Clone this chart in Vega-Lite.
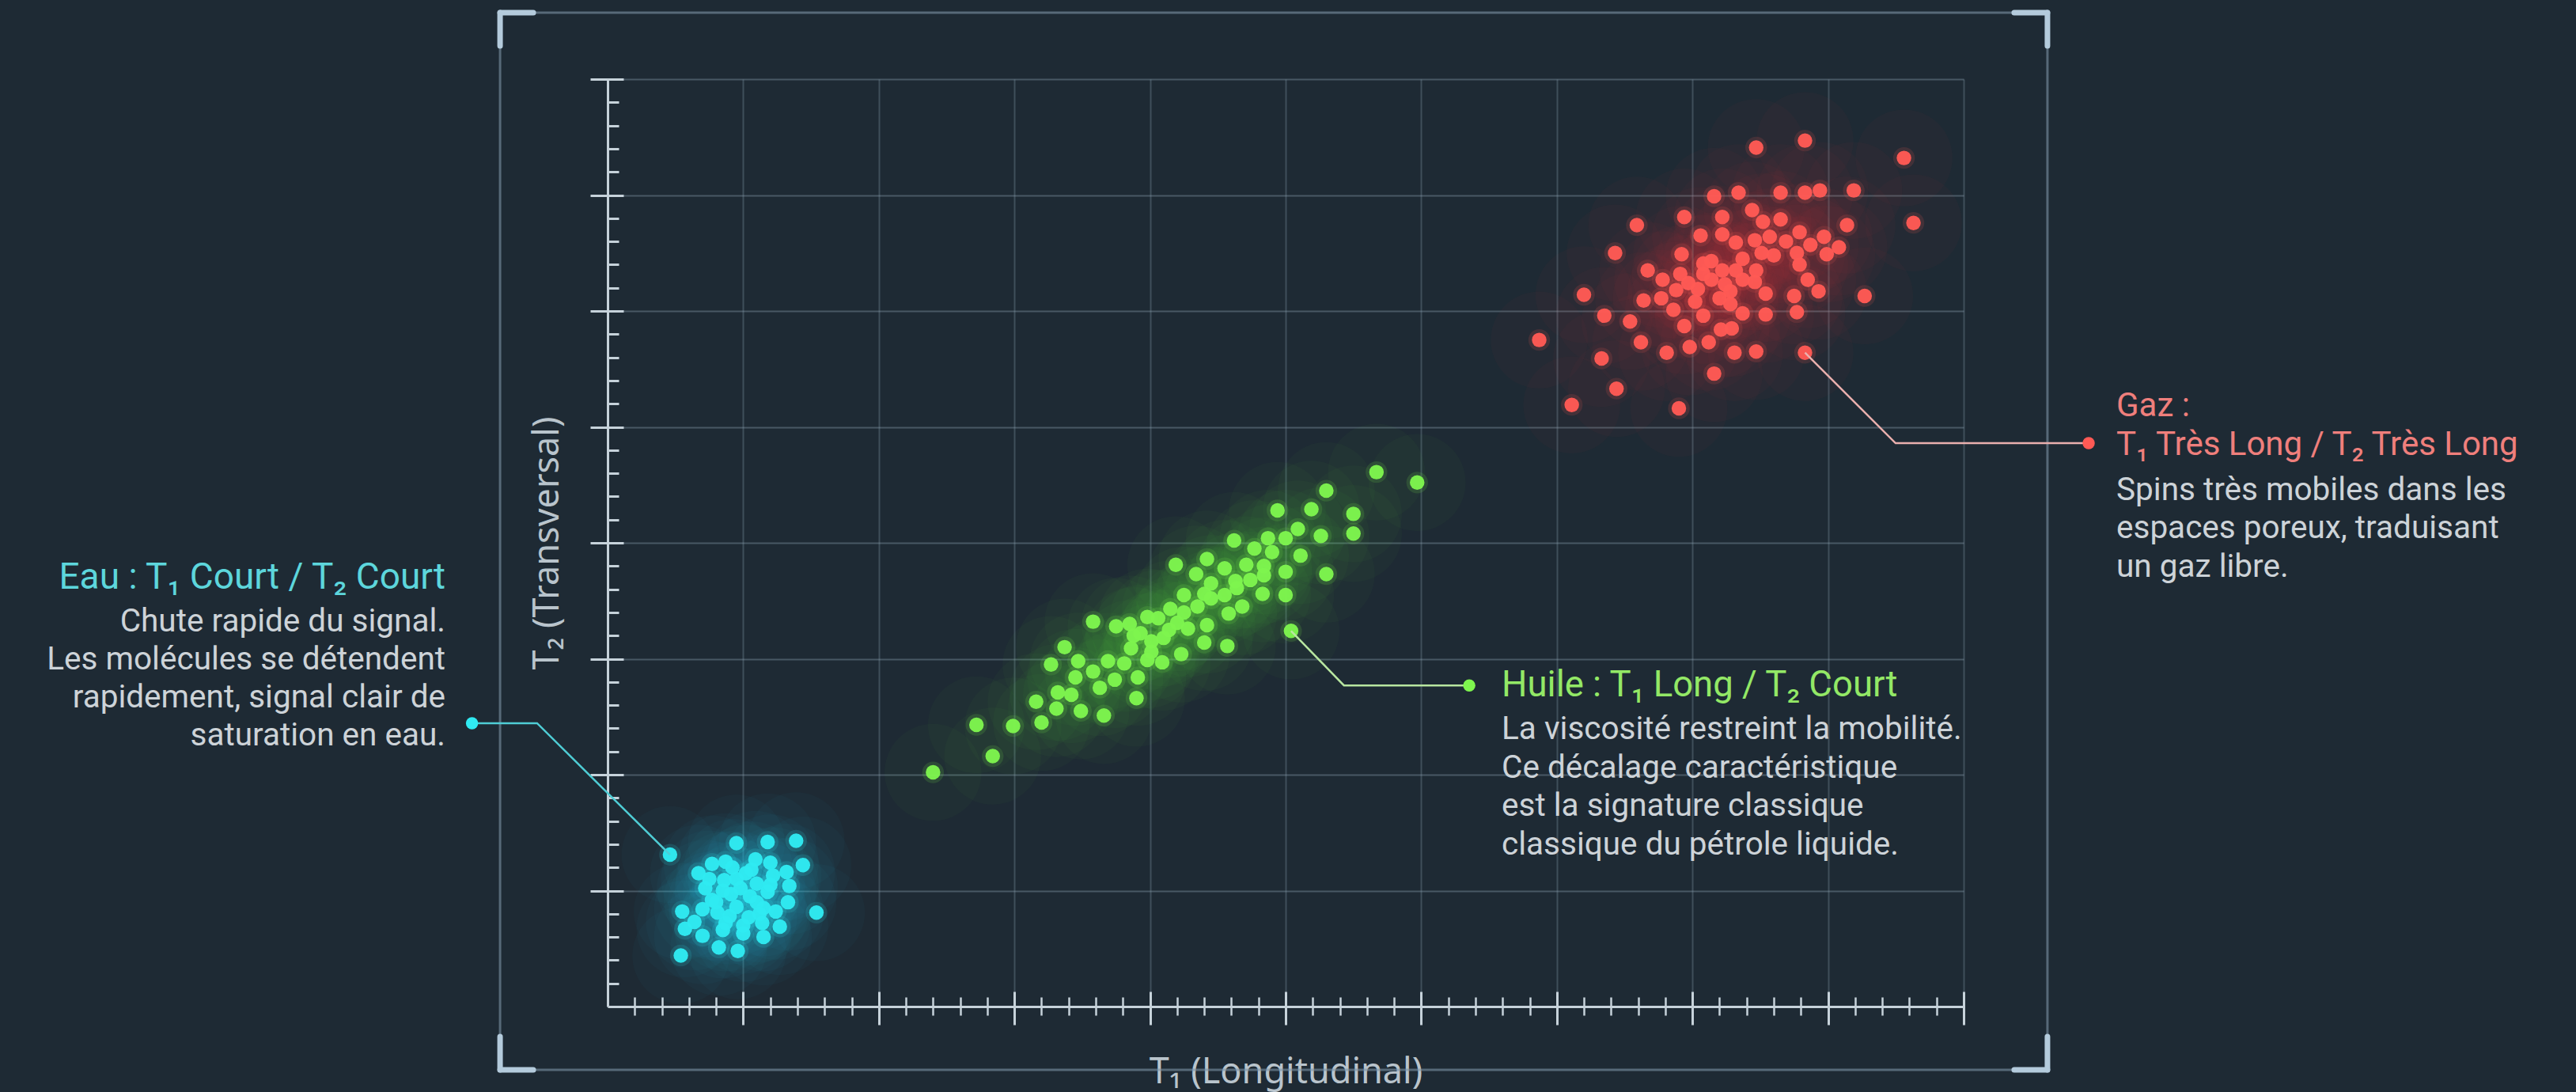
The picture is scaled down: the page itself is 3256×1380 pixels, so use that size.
{
  "$schema": "https://vega.github.io/schema/vega-lite/v6.json",
  "width": 1714,
  "height": 1172,
  "autosize": {"type": "none"},
  "padding": {"left": 768, "top": 100, "right": 774, "bottom": 108},
  "background": "#1e2a34",
  "config": {"view": {"stroke": null}, "font": "Noto Sans"},
  "datasets": {
    "pts": [
      {"g":"Gaz","x":8.47,"y":7.41},{"g":"Gaz","x":8.83,"y":7.47},{"g":"Gaz","x":9.56,"y":7.32},{"g":"Gaz","x":8.16,"y":6.99},{"g":"Gaz","x":8.34,"y":7.02},{"g":"Gaz","x":8.65,"y":7.02},{"g":"Gaz","x":8.83,"y":7.02},{"g":"Gaz","x":8.94,"y":7.04},{"g":"Gaz","x":9.19,"y":7.04},{"g":"Gaz","x":9.63,"y":6.76},
      {"g":"Gaz","x":7.59,"y":6.74},{"g":"Gaz","x":7.94,"y":6.81},{"g":"Gaz","x":8.22,"y":6.81},{"g":"Gaz","x":8.44,"y":6.87},{"g":"Gaz","x":8.52,"y":6.77},{"g":"Gaz","x":8.65,"y":6.79},{"g":"Gaz","x":9.14,"y":6.74},{"g":"Gaz","x":7.43,"y":6.50},{"g":"Gaz","x":8.06,"y":6.65},{"g":"Gaz","x":8.22,"y":6.66},
      {"g":"Gaz","x":8.32,"y":6.59},{"g":"Gaz","x":8.46,"y":6.61},{"g":"Gaz","x":8.57,"y":6.64},{"g":"Gaz","x":8.69,"y":6.60},{"g":"Gaz","x":8.79,"y":6.68},{"g":"Gaz","x":8.87,"y":6.57},{"g":"Gaz","x":8.97,"y":6.64},{"g":"Gaz","x":9.08,"y":6.55},{"g":"Gaz","x":8.99,"y":6.49},{"g":"Gaz","x":8.77,"y":6.50},
      {"g":"Gaz","x":7.92,"y":6.49},{"g":"Gaz","x":8.14,"y":6.43},{"g":"Gaz","x":8.22,"y":6.35},{"g":"Gaz","x":8.37,"y":6.45},{"g":"Gaz","x":8.51,"y":6.50},{"g":"Gaz","x":8.60,"y":6.48},{"g":"Gaz","x":8.79,"y":6.40},{"g":"Gaz","x":7.67,"y":6.35},{"g":"Gaz","x":7.78,"y":6.27},{"g":"Gaz","x":7.91,"y":6.32},
      {"g":"Gaz","x":8.08,"y":6.41},{"g":"Gaz","x":8.32,"y":6.35},{"g":"Gaz","x":8.47,"y":6.35},{"g":"Gaz","x":8.14,"y":6.27},{"g":"Gaz","x":8.46,"y":6.25},{"g":"Gaz","x":8.85,"y":6.27},{"g":"Gaz","x":8.93,"y":6.17},{"g":"Gaz","x":7.20,"y":6.14},{"g":"Gaz","x":7.64,"y":6.09},{"g":"Gaz","x":7.77,"y":6.11},
      {"g":"Gaz","x":7.88,"y":6.18},{"g":"Gaz","x":8.04,"y":6.19},{"g":"Gaz","x":8.28,"y":6.17},{"g":"Gaz","x":8.54,"y":6.15},{"g":"Gaz","x":8.75,"y":6.13},{"g":"Gaz","x":9.27,"y":6.13},{"g":"Gaz","x":7.35,"y":5.96},{"g":"Gaz","x":7.54,"y":5.91},{"g":"Gaz","x":7.86,"y":6.01},{"g":"Gaz","x":8.08,"y":5.96},
      {"g":"Gaz","x":8.28,"y":6.06},{"g":"Gaz","x":8.37,"y":5.98},{"g":"Gaz","x":8.54,"y":5.97},{"g":"Gaz","x":8.77,"y":5.99},{"g":"Gaz","x":6.87,"y":5.75},{"g":"Gaz","x":7.62,"y":5.73},{"g":"Gaz","x":7.94,"y":5.87},{"g":"Gaz","x":8.21,"y":5.84},{"g":"Gaz","x":8.29,"y":5.85},{"g":"Gaz","x":8.12,"y":5.73},
      {"g":"Gaz","x":7.33,"y":5.59},{"g":"Gaz","x":7.81,"y":5.64},{"g":"Gaz","x":7.98,"y":5.69},{"g":"Gaz","x":8.31,"y":5.64},{"g":"Gaz","x":8.47,"y":5.65},{"g":"Gaz","x":8.83,"y":5.64},{"g":"Gaz","x":8.16,"y":5.46},{"g":"Gaz","x":7.44,"y":5.33},{"g":"Gaz","x":7.11,"y":5.19},{"g":"Gaz","x":7.90,"y":5.16},
      {"g":"Gaz","x":8.02,"y":6.08},{"g":"Gaz","x":8.20,"y":6.11},{"g":"Gaz","x":7.97,"y":6.24},{"g":"Gaz","x":8.08,"y":6.32},{"g":"Gaz","x":8.37,"y":6.27},{"g":"Gaz","x":8.24,"y":6.23},
      {"g":"Huile","x":5.67,"y":4.61},{"g":"Huile","x":5.97,"y":4.52},{"g":"Huile","x":5.30,"y":4.45},{"g":"Huile","x":4.94,"y":4.28},{"g":"Huile","x":5.19,"y":4.29},{"g":"Huile","x":5.50,"y":4.25},{"g":"Huile","x":5.50,"y":4.08},{"g":"Huile","x":5.26,"y":4.06},{"g":"Huile","x":5.09,"y":4.12},{"g":"Huile","x":4.62,"y":4.02},
      {"g":"Huile","x":4.87,"y":4.04},{"g":"Huile","x":5.00,"y":4.04},{"g":"Huile","x":4.77,"y":3.95},{"g":"Huile","x":4.90,"y":3.92},{"g":"Huile","x":5.11,"y":3.89},{"g":"Huile","x":4.19,"y":3.81},{"g":"Huile","x":4.42,"y":3.86},{"g":"Huile","x":4.55,"y":3.78},{"g":"Huile","x":4.71,"y":3.81},{"g":"Huile","x":4.84,"y":3.80},
      {"g":"Huile","x":5.00,"y":3.75},{"g":"Huile","x":5.30,"y":3.73},{"g":"Huile","x":4.34,"y":3.73},{"g":"Huile","x":4.45,"y":3.65},{"g":"Huile","x":4.63,"y":3.67},{"g":"Huile","x":4.74,"y":3.68},{"g":"Huile","x":4.84,"y":3.72},{"g":"Huile","x":5.00,"y":3.55},{"g":"Huile","x":4.83,"y":3.56},{"g":"Huile","x":4.25,"y":3.55},
      {"g":"Huile","x":4.40,"y":3.56},{"g":"Huile","x":4.55,"y":3.55},{"g":"Huile","x":4.68,"y":3.45},{"g":"Huile","x":4.58,"y":3.39},{"g":"Huile","x":4.15,"y":3.43},{"g":"Huile","x":3.98,"y":3.36},{"g":"Huile","x":3.58,"y":3.32},{"g":"Huile","x":3.75,"y":3.28},{"g":"Huile","x":3.85,"y":3.30},{"g":"Huile","x":4.06,"y":3.35},
      {"g":"Huile","x":4.28,"y":3.26},{"g":"Huile","x":4.42,"y":3.29},{"g":"Huile","x":3.93,"y":3.22},{"g":"Huile","x":4.14,"y":3.25},{"g":"Huile","x":5.04,"y":3.24},{"g":"Huile","x":4.40,"y":3.14},{"g":"Huile","x":4.57,"y":3.11},{"g":"Huile","x":3.86,"y":3.09},{"g":"Huile","x":4.01,"y":3.06},{"g":"Huile","x":4.23,"y":3.04},
      {"g":"Huile","x":3.37,"y":3.10},{"g":"Huile","x":3.47,"y":2.98},{"g":"Huile","x":3.69,"y":2.98},{"g":"Huile","x":3.81,"y":2.96},{"g":"Huile","x":3.98,"y":2.99},{"g":"Huile","x":4.09,"y":2.97},{"g":"Huile","x":3.27,"y":2.95},{"g":"Huile","x":3.58,"y":2.89},{"g":"Huile","x":3.45,"y":2.84},{"g":"Huile","x":3.74,"y":2.82},
      {"g":"Huile","x":3.91,"y":2.84},{"g":"Huile","x":3.63,"y":2.75},{"g":"Huile","x":3.32,"y":2.71},{"g":"Huile","x":3.42,"y":2.69},{"g":"Huile","x":3.90,"y":2.66},{"g":"Huile","x":3.16,"y":2.63},{"g":"Huile","x":3.31,"y":2.57},{"g":"Huile","x":3.49,"y":2.55},{"g":"Huile","x":3.66,"y":2.51},{"g":"Huile","x":3.20,"y":2.45},
      {"g":"Huile","x":2.72,"y":2.43},{"g":"Huile","x":2.99,"y":2.42},{"g":"Huile","x":2.84,"y":2.16},{"g":"Huile","x":2.40,"y":2.02},{"g":"Huile","x":4.10,"y":3.18},{"g":"Huile","x":4.25,"y":3.40},{"g":"Huile","x":4.01,"y":3.15},{"g":"Huile","x":4.35,"y":3.45},{"g":"Huile","x":4.45,"y":3.52},{"g":"Huile","x":3.88,"y":3.20},
      {"g":"Huile","x":4.20,"y":3.31},{"g":"Huile","x":4.64,"y":3.61},
      {"g":"Eau","x":0.46,"y":1.31},{"g":"Eau","x":0.95,"y":1.41},{"g":"Eau","x":1.18,"y":1.42},{"g":"Eau","x":1.39,"y":1.43},{"g":"Eau","x":0.77,"y":1.23},{"g":"Eau","x":0.87,"y":1.25},{"g":"Eau","x":1.09,"y":1.27},{"g":"Eau","x":1.20,"y":1.24},{"g":"Eau","x":1.44,"y":1.22},{"g":"Eau","x":0.67,"y":1.15},
      {"g":"Eau","x":1.32,"y":1.16},{"g":"Eau","x":0.86,"y":1.09},{"g":"Eau","x":0.72,"y":1.02},{"g":"Eau","x":1.34,"y":1.04},{"g":"Eau","x":0.55,"y":0.82},{"g":"Eau","x":0.70,"y":0.84},{"g":"Eau","x":1.33,"y":0.90},{"g":"Eau","x":1.24,"y":0.82},{"g":"Eau","x":1.54,"y":0.81},{"g":"Eau","x":0.57,"y":0.67},
      {"g":"Eau","x":0.64,"y":0.73},{"g":"Eau","x":0.70,"y":0.61},{"g":"Eau","x":1.27,"y":0.69},{"g":"Eau","x":1.15,"y":0.60},{"g":"Eau","x":0.82,"y":0.51},{"g":"Eau","x":0.96,"y":0.48},{"g":"Eau","x":0.54,"y":0.44},{"g":"Eau","x":1.00,"y":0.63},{"g":"Eau","x":0.85,"y":0.66},{"g":"Eau","x":0.98,"y":1.02},
      {"g":"Eau","x":1.10,"y":1.06},{"g":"Eau","x":0.95,"y":0.86},{"g":"Eau","x":1.10,"y":0.90},{"g":"Eau","x":1.18,"y":0.99},{"g":"Eau","x":0.81,"y":0.81},{"g":"Eau","x":1.04,"y":0.77},{"g":"Eau","x":0.91,"y":0.97},{"g":"Eau","x":1.22,"y":1.13},{"g":"Eau","x":1.02,"y":1.15},{"g":"Eau","x":0.77,"y":0.92},
      {"g":"Eau","x":0.87,"y":0.72},{"g":"Eau","x":1.14,"y":0.72},{"g":"Eau","x":0.85,"y":1.00},{"g":"Eau","x":0.95,"y":1.10},{"g":"Eau","x":1.05,"y":0.95},{"g":"Eau","x":1.15,"y":0.85},{"g":"Eau","x":0.90,"y":0.78},{"g":"Eau","x":1.00,"y":0.70},{"g":"Eau","x":0.80,"y":0.90},{"g":"Eau","x":1.20,"y":1.05},
      {"g":"Eau","x":1.06,"y":1.18},{"g":"Eau","x":0.92,"y":1.20},{"g":"Eau","x":1.12,"y":0.80},{"g":"Eau","x":0.75,"y":1.10}
    ],
    "leaders": [
      {"g":"Eau","o":1,"x":-1.0,"y":2.444},{"g":"Eau","o":2,"x":-0.52,"y":2.444},{"g":"Eau","o":3,"x":0.46,"y":1.31},
      {"g":"Huile","o":1,"x":6.354,"y":2.77},{"g":"Huile","o":2,"x":5.43,"y":2.77},{"g":"Huile","o":3,"x":5.04,"y":3.24},
      {"g":"Gaz","o":1,"x":10.922,"y":4.86},{"g":"Gaz","o":2,"x":9.498,"y":4.86},{"g":"Gaz","o":3,"x":8.83,"y":5.64}
    ],
    "labels": [
      {"g":"Eau","kind":"title","x":-1.196,"y":3.70,"text":"Eau : T₁ Court / T₂ Court"},
      {"g":"Eau","kind":"body","x":-1.196,"y":3.317,"text":"Chute rapide du signal.\nLes molécules se détendent\nrapidement, signal clair de\nsaturation en eau."},
      {"g":"Huile","kind":"title","x":6.593,"y":2.77,"text":"Huile : T₁ Long / T₂ Court"},
      {"g":"Huile","kind":"body","x":6.593,"y":2.389,"text":"La viscosité restreint la mobilité.\nCe décalage caractéristique\nest la signature classique\nclassique du pétrole liquide."},
      {"g":"Gaz","kind":"title","x":11.126,"y":5.181,"text":"Gaz :\nT₁ Très Long / T₂ Très Long"},
      {"g":"Gaz","kind":"body","x":11.126,"y":4.451,"text":"Spins très mobiles dans les\nespaces poreux, traduisant\nun gaz libre."}
    ],
    "frame": [
      {"kind":"side","x":-0.793,"x2":10.618,"y":8.573,"y2":8.573},
      {"kind":"side","x":-0.793,"x2":10.618,"y":-0.546,"y2":-0.546},
      {"kind":"side","x":-0.793,"x2":-0.793,"y":-0.546,"y2":8.573},
      {"kind":"side","x":10.618,"x2":10.618,"y":-0.546,"y2":8.573},
      {"kind":"corner","x":-0.793,"x2":-0.548,"y":8.573,"y2":8.573},
      {"kind":"corner","x":-0.793,"x2":-0.793,"y":8.573,"y2":8.286},
      {"kind":"corner","x":10.373,"x2":10.618,"y":8.573,"y2":8.573},
      {"kind":"corner","x":10.618,"x2":10.618,"y":8.573,"y2":8.286},
      {"kind":"corner","x":-0.793,"x2":-0.548,"y":-0.546,"y2":-0.546},
      {"kind":"corner","x":-0.793,"x2":-0.793,"y":-0.546,"y2":-0.259},
      {"kind":"corner","x":10.373,"x2":10.618,"y":-0.546,"y2":-0.546},
      {"kind":"corner","x":10.618,"x2":10.618,"y":-0.546,"y2":-0.259}
    ]
  },
  "encoding": {
    "x": {"field": "x", "type": "quantitative", "scale": {"domain": [0, 10], "nice": false, "zero": false}, "axis": null},
    "y": {"field": "y", "type": "quantitative", "scale": {"domain": [0, 8], "nice": false, "zero": false}, "axis": null}
  },
  "layer": [
    {
      "data": {"name": "frame"},
      "transform": [{"filter": "datum.kind === 'side'"}],
      "mark": {"type": "rule", "stroke": "#7d95a6", "strokeOpacity": 0.6, "strokeWidth": 3},
      "encoding": {"x2": {"field": "x2"}, "y2": {"field": "y2"}}
    },
    {
      "data": {"name": "frame"},
      "transform": [{"filter": "datum.kind === 'corner'"}],
      "mark": {"type": "rule", "stroke": "#b4cbdc", "strokeWidth": 7, "strokeCap": "round"},
      "encoding": {"x2": {"field": "x2"}, "y2": {"field": "y2"}}
    },
    {
      "data": {"values": [{"x": 0, "y": 0}]},
      "mark": {"type": "point", "opacity": 0},
      "encoding": {
        "x": {"field": "x", "type": "quantitative", "scale": {"domain": [0, 10], "nice": false, "zero": false},
          "axis": {"orient": "bottom", "values": [0,1,2,3,4,5,6,7,8,9,10], "domain": true, "domainColor": "#c6d2da", "domainWidth": 3,
            "ticks": false, "labels": false, "grid": true, "gridColor": "#8ea4b4", "gridOpacity": 0.3, "gridWidth": 2,
            "title": "T₁ (Longitudinal)", "titleFont": "Noto Sans", "titleFontSize": 45, "titleFontWeight": "normal", "titleColor": "#b9c4cc",
            "titleX": 857, "titleY": 82, "titleBaseline": "middle", "titleAlign": "center"}},
        "y": {"field": "y", "type": "quantitative", "scale": {"domain": [0, 8], "nice": false, "zero": false},
          "axis": {"orient": "left", "values": [0,1,2,3,4,5,6,7,8], "domain": true, "domainColor": "#c6d2da", "domainWidth": 3,
            "ticks": false, "labels": false, "grid": true, "gridColor": "#8ea4b4", "gridOpacity": 0.38, "gridWidth": 2,
            "title": "T₂ (Transversal)", "titleFont": "Noto Sans", "titleFontSize": 45, "titleFontWeight": "normal", "titleColor": "#b9c4cc",
            "titleX": -77, "titleY": 586, "titleAngle": -90, "titleBaseline": "middle", "titleAlign": "center"}}
      }
    },
    {
      "data": {"values": [{"x": 0, "y": 0}]},
      "mark": {"type": "point", "opacity": 0},
      "encoding": {
        "x": {"field": "x", "type": "quantitative", "scale": {"domain": [0, 10], "nice": false, "zero": false},
          "axis": {"orient": "bottom", "values": [1,2,3,4,5,6,7,8,9,10], "domain": false, "labels": false, "grid": false,
            "ticks": true, "tickSize": 42, "offset": -19, "tickColor": "#c6d2da", "tickWidth": 3, "title": null}},
        "y": {"field": "y", "type": "quantitative", "scale": {"domain": [0, 8], "nice": false, "zero": false},
          "axis": {"orient": "left", "values": [1,2,3,4,5,6,7,8], "domain": false, "labels": false, "grid": false,
            "ticks": true, "tickSize": 42, "offset": -20, "tickColor": "#c6d2da", "tickWidth": 3, "title": null}}
      }
    },
    {
      "data": {"values": [{"x": 0, "y": 0}]},
      "mark": {"type": "point", "opacity": 0},
      "encoding": {
        "x": {"field": "x", "type": "quantitative", "scale": {"domain": [0, 10], "nice": false, "zero": false},
          "axis": {"orient": "bottom", "values": [0.2,0.4,0.6,0.8,1.2,1.4,1.6,1.8,2.2,2.4,2.6,2.8,3.2,3.4,3.6,3.8,4.2,4.4,4.6,4.8,5.2,5.4,5.6,5.8,6.2,6.4,6.6,6.8,7.2,7.4,7.6,7.8,8.2,8.4,8.6,8.8,9.2,9.4,9.6,9.8],
            "domain": false, "labels": false, "grid": false, "ticks": true, "tickSize": 23, "offset": -12, "tickColor": "#c6d2da", "tickWidth": 2.5, "title": null}},
        "y": {"field": "y", "type": "quantitative", "scale": {"domain": [0, 8], "nice": false, "zero": false},
          "axis": {"orient": "left", "values": [0.2,0.4,0.6,0.8,1.2,1.4,1.6,1.8,2.2,2.4,2.6,2.8,3.2,3.4,3.6,3.8,4.2,4.4,4.6,4.8,5.2,5.4,5.6,5.8,6.2,6.4,6.6,6.8,7.2,7.4,7.6,7.8],
            "domain": false, "labels": false, "grid": false, "ticks": true, "tickSize": 14, "offset": -14, "tickColor": "#c6d2da", "tickWidth": 3, "title": null}}
      }
    },
    {
      "data": {"name": "pts"},
      "mark": {"type": "circle", "size": 15000, "opacity": 0.028},
      "encoding": {"fill": {"field": "g", "type": "nominal", "scale": {"domain": ["Eau", "Huile", "Gaz"], "range": ["#30eaf2", "#7ef54e", "#ff5a55"]}, "legend": null}}
    },
    {
      "data": {"name": "pts"},
      "mark": {"type": "circle", "size": 750, "opacity": 0.14},
      "encoding": {"fill": {"field": "g", "type": "nominal", "legend": null}}
    },
    {
      "data": {"name": "pts"},
      "mark": {"type": "circle", "size": 340, "opacity": 0.97},
      "encoding": {"fill": {"field": "g", "type": "nominal", "legend": null}}
    },
    {
      "data": {"name": "leaders"},
      "mark": {"type": "line", "strokeWidth": 2.5},
      "encoding": {
        "stroke": {"field": "g", "type": "nominal", "scale": {"domain": ["Eau", "Huile", "Gaz"], "range": ["#4fcdd5", "#b8e6a0", "#eab0ae"]}, "legend": null},
        "order": {"field": "o", "type": "quantitative"}
      }
    },
    {
      "data": {"name": "leaders"},
      "transform": [{"filter": "datum.o === 1"}],
      "mark": {"type": "circle", "size": 240, "opacity": 1},
      "encoding": {"fill": {"field": "g", "type": "nominal", "legend": null}}
    },
    {
      "data": {"name": "labels"},
      "transform": [{"filter": "datum.g === 'Eau' && datum.kind === 'title'"}],
      "mark": {"type": "text", "align": "right", "baseline": "middle", "fontSize": 46, "font": "Roboto", "fill": "#5dd6dc"},
      "encoding": {"text": {"field": "text"}}
    },
    {
      "data": {"name": "labels"},
      "transform": [{"filter": "datum.g === 'Eau' && datum.kind === 'body'"}],
      "mark": {"type": "text", "align": "right", "baseline": "middle", "fontSize": 40.5, "lineHeight": 48, "lineBreak": "\n", "font": "Roboto", "fill": "#cdd3d8"},
      "encoding": {"text": {"field": "text"}}
    },
    {
      "data": {"name": "labels"},
      "transform": [{"filter": "datum.g === 'Huile' && datum.kind === 'title'"}],
      "mark": {"type": "text", "align": "left", "baseline": "middle", "fontSize": 45.5, "font": "Roboto", "fill": "#93e866"},
      "encoding": {"text": {"field": "text"}}
    },
    {
      "data": {"name": "labels"},
      "transform": [{"filter": "datum.g === 'Gaz' && datum.kind === 'title'"}],
      "mark": {"type": "text", "align": "left", "baseline": "middle", "fontSize": 42, "lineHeight": 49.3, "lineBreak": "\n", "font": "Roboto", "fill": "#ef7f7c"},
      "encoding": {"text": {"field": "text"}}
    },
    {
      "data": {"name": "labels"},
      "transform": [{"filter": "datum.g !== 'Eau' && datum.kind === 'body'"}],
      "mark": {"type": "text", "align": "left", "baseline": "middle", "fontSize": 40.5, "lineHeight": 48.5, "lineBreak": "\n", "font": "Roboto", "fill": "#cdd3d8"},
      "encoding": {"text": {"field": "text"}}
    }
  ],
  "resolve": {"axis": {"x": "independent", "y": "independent"}}
}
